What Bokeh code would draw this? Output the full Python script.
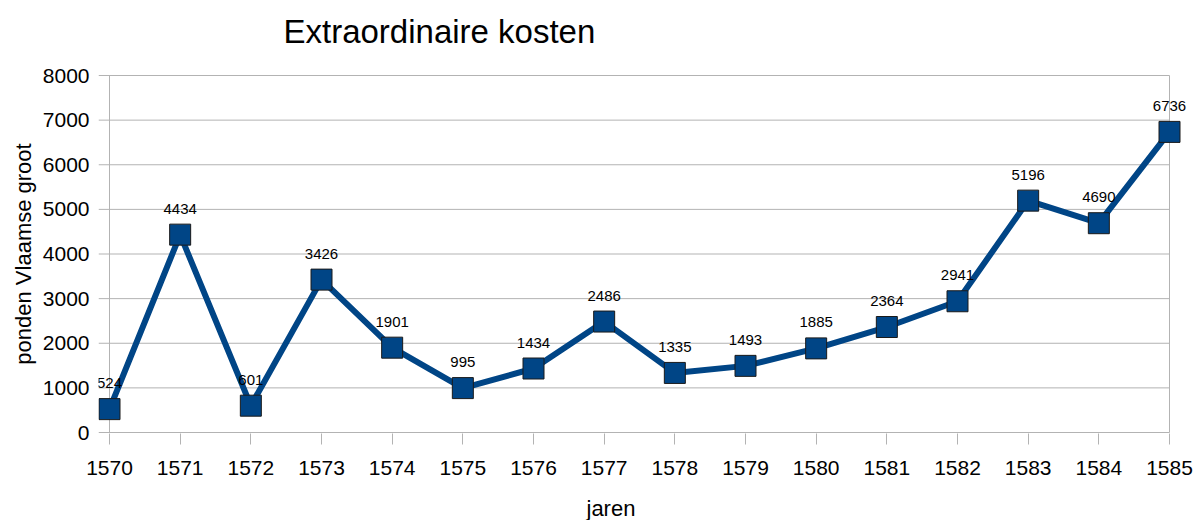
from bokeh.plotting import figure
from bokeh.models import Range1d, FixedTicker, LabelSet, ColumnDataSource, Title, LinearAxis
from bokeh.embed import file_html
from bokeh.resources import INLINE
from bokeh.core.properties import value

# ---- data ----
years = [1570, 1571, 1572, 1573, 1574, 1575, 1576, 1577, 1578, 1579, 1580, 1581, 1582, 1583, 1584, 1585]
costs = [524, 4434, 601, 3426, 1901, 995, 1434, 2486, 1335, 1493, 1885, 2364, 2941, 5196, 4690, 6736]
y_ticks = [0, 1000, 2000, 3000, 4000, 5000, 6000, 7000, 8000]
title_text = "Extraordinaire kosten"
x_label = "jaren"
y_label = "ponden Vlaamse groot"

# ---- geometry (canvas pixels) ----
W, H = 1197, 520
FL, FR, FT, FB = 98, 1188, 74, 433
X0PX, X1PX = 109, 1169   # where first/last year sit
Y0PX, Y8PX = 432, 75     # where 0 / 8000 sit
ppy = (X1PX - X0PX) / (years[-1] - years[0])
ppu = (Y0PX - Y8PX) / (y_ticks[-1] - y_ticks[0])


def cx(px):
    return years[0] + (px - X0PX) / ppy


def cy(py):
    return y_ticks[0] + (Y0PX - py) / ppu


x_start, x_end = cx(FL), cx(FR)
y_start, y_end = cy(FB), cy(FT)

FONT = "Liberation Sans"
GRID = "#b3b3b3"
BLUE = "#004586"

p = figure(width=W, height=H,
           x_range=Range1d(x_start, x_end), y_range=Range1d(y_start, y_end),
           output_backend="svg", toolbar_location=None,
           min_border_left=FL, min_border_right=W - FR,
           min_border_top=FT, min_border_bottom=H - FB)
p.title.visible = False
p.grid.visible = False
p.outline_line_color = None
p.background_fill_color = "white"
p.border_fill_color = "white"

# axes
p.xaxis.ticker = FixedTicker(ticks=years)
p.xaxis.axis_line_color = None
p.xaxis.major_tick_out = 11
p.xaxis.major_tick_in = 0
p.xaxis.minor_tick_line_color = None
p.xaxis.major_tick_line_color = GRID
p.xaxis.major_label_standoff = 16
# invisible spacer label between tick labels and the "jaren" title
p.xaxis.axis_label = " "
p.xaxis.axis_label_text_font_size = "1px"
p.xaxis.axis_label_standoff = 12

p.yaxis.ticker = FixedTicker(ticks=y_ticks)
p.yaxis.axis_line_color = None
p.yaxis.major_tick_out = 0
p.yaxis.major_tick_in = 0
p.yaxis.minor_tick_line_color = None
p.yaxis.major_tick_line_color = None
p.yaxis.major_label_standoff = 9
p.yaxis.axis_label = y_label
p.yaxis.axis_label_standoff = 4
p.yaxis.axis_label_text_font = FONT
p.yaxis.axis_label_text_font_size = "22px"
p.yaxis.axis_label_text_font_style = "normal"
p.yaxis.axis_label_text_color = "black"

for ax in (p.xaxis, p.yaxis):
    ax.major_label_text_font = FONT
    ax.major_label_text_font_size = "21px"
    ax.major_label_text_color = "black"

# invisible spacer axis above the frame, pushes the title upwards
spacer = LinearAxis(ticker=FixedTicker(ticks=[]), axis_line_color=None,
                    major_tick_out=0, major_tick_in=0, minor_tick_out=0, minor_tick_in=0,
                    major_tick_line_color=None, minor_tick_line_color=None,
                    major_label_standoff=0, axis_label=" ",
                    axis_label_text_font_size="1px", axis_label_standoff=21)
p.add_layout(spacer, "above")

# grid lines (horizontal extend to the left of the first year, like tick marks)
p.segment(x0=[x_start] * len(y_ticks), x1=[years[-1]] * len(y_ticks),
          y0=y_ticks, y1=y_ticks, line_color=GRID, line_width=1)
p.segment(x0=[years[0], years[-1]], x1=[years[0], years[-1]],
          y0=[y_ticks[0]] * 2, y1=[y_ticks[-1]] * 2, line_color=GRID, line_width=1)

src = ColumnDataSource(dict(x=years, y=costs, t=[str(v) for v in costs]))
p.line("x", "y", source=src, line_color=BLUE, line_width=6)
p.scatter("x", "y", source=src, marker="square", size=21,
          fill_color=BLUE, line_color="#1a1a1a", line_width=1)

labels = LabelSet(x="x", y="y", text="t", source=src, y_offset=26,
                  text_align="center", text_baseline="middle",
                  text_font=value(FONT), text_font_size=value("15px"), text_color="black")
p.add_layout(labels)

# title & x axis title
t_top = Title(text=title_text, align="left", offset=283 - FL, standoff=0,
              text_font=FONT, text_font_size="33px", text_font_style="normal",
              text_color="black")
p.add_layout(t_top, "above")
t_bot = Title(text=x_label, align="left", offset=586 - FL, standoff=0,
              text_font=FONT, text_font_size="22px", text_font_style="normal",
              text_color="black")
p.add_layout(t_bot, "below")

open("out.html", "w").write(file_html(p, INLINE))
